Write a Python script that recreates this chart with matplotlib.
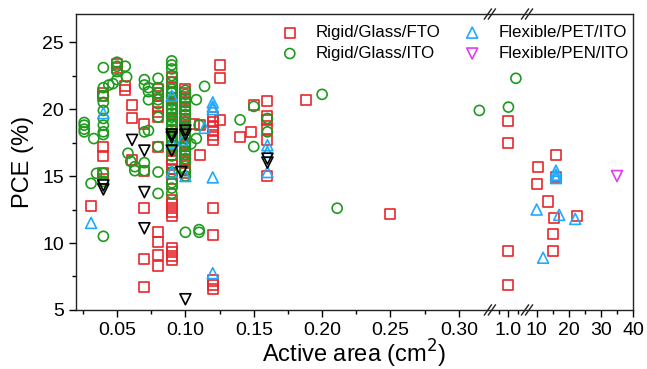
import numpy as np
import matplotlib.pyplot as plt
from matplotlib.ticker import FixedLocator, FixedFormatter

plt.rcParams['font.family'] = ['Liberation Sans', 'DejaVu Sans']

# (active area in cm2, [PCE values in %])
fto = [
    (0.031, [12.8]),
    (0.04, [21.2, 21.0, 17.2, 16.5, 15.2, 14.8]),
    (0.05, [23.4, 23.1]),
    (0.056, [21.7, 21.4]),
    (0.061, [20.3, 19.3, 16.2]),
    (0.07, [18.9, 15.4, 12.6, 8.8, 6.7]),
    (0.08, [21.5, 21.2, 21.0, 20.2, 19.8, 19.4, 17.2, 10.8, 10.1, 9.1, 8.3]),
    (0.09, [22.4, 22.0, 21.6, 21.2, 20.8, 20.4, 20.0, 19.6, 19.2, 18.8, 18.4,
            18.0, 17.6, 17.2, 16.9, 16.6, 16.2, 15.8, 15.5, 15.2, 14.8, 14.4,
            13.2, 12.9, 12.6, 12.3, 12.0, 9.6, 9.3, 9.0, 8.7]),
    (0.10, [21.5, 21.2, 20.9, 20.5, 20.0, 19.5, 19.0, 18.6, 18.0, 17.4, 16.8,
            16.5, 16.2, 15.5, 15.2]),
    (0.106, [18.9]),
    (0.111, [18.8, 16.6]),
    (0.12, [19.4, 19.0, 18.7, 18.4, 18.1, 17.7, 12.6, 10.6, 7.2, 6.9, 6.6]),
    (0.125, [23.3, 22.3, 19.2]),
    (0.14, [17.9]),
    (0.148, [18.3]),
    (0.15, [20.3]),
    (0.16, [20.6, 19.5, 19.2, 18.5, 17.7, 15.0]),
    (0.188, [20.7]),
    (0.25, [12.15]),
    (1.0, [19.1, 17.45, 9.4, 6.9]),
    (10.1, [14.4]),
    (10.4, [15.7]),
    (13.5, [13.1]),
    (15.1, [10.65, 9.4]),
    (15.4, [11.9]),
    (16.0, [16.6, 14.9]),
    (22.6, [12.0]),
]

ito = [
    (0.026, [19.0, 18.8, 18.5, 18.3]),
    (0.031, [14.45]),
    (0.033, [17.8]),
    (0.035, [15.2]),
    (0.04, [23.1, 21.6, 21.0, 20.5, 19.9, 19.3, 18.8, 18.3, 18.1, 15.2, 14.6, 10.5]),
    (0.044, [21.8]),
    (0.047, [21.9]),
    (0.05, [23.5, 23.2, 22.8, 22.2]),
    (0.056, [23.2]),
    (0.057, [22.4]),
    (0.058, [16.7]),
    (0.06, [16.1]),
    (0.063, [15.7, 15.4]),
    (0.07, [22.2, 21.8, 18.3, 16.0, 15.4]),
    (0.073, [21.6, 21.3, 20.7, 18.4]),
    (0.08, [22.3, 21.6, 21.2, 20.7, 20.4, 19.4, 17.2, 15.3, 13.7]),
    (0.09, [23.6, 23.3, 23.0, 22.5, 22.0, 21.5, 21.2, 20.9, 20.6, 20.3, 20.0,
            19.7, 19.4, 19.1, 18.8, 18.5, 18.2, 17.9, 17.6, 17.0, 16.5, 15.3,
            14.5, 14.1, 13.7]),
    (0.10, [21.4, 21.1, 20.8, 20.5, 20.2, 19.9, 19.6, 19.3, 19.0, 18.7, 18.4,
            18.1, 17.8, 17.5, 17.2, 16.9, 16.6, 16.3, 16.0, 15.4, 15.0, 10.8]),
    (0.104, [17.4]),
    (0.108, [20.7, 17.8]),
    (0.11, [18.8, 11.0, 10.8]),
    (0.114, [21.7]),
    (0.14, [19.2]),
    (0.15, [20.2, 17.2]),
    (0.16, [19.3, 18.3]),
    (0.2, [21.1]),
    (0.211, [12.6]),
    (0.315, [19.9]),
    (1.0, [20.15]),
    (1.04, [22.3]),
]

pet = [
    (0.031, [11.5]),
    (0.04, [19.7]),
    (0.09, [21.0, 17.5, 15.3]),
    (0.098, [17.7]),
    (0.10, [15.0]),
    (0.114, [18.6]),
    (0.12, [20.5, 20.2, 20.0, 14.9, 7.75]),
    (0.16, [17.3, 16.8, 15.3]),
    (10.0, [12.5]),
    (12.0, [8.9]),
    (16.0, [15.4, 15.1, 14.85]),
    (17.0, [12.1]),
    (22.0, [11.8]),
]

pen = [(35.0, [15.0])]

other = [
    (0.04, [14.3, 14.0]),
    (0.061, [17.7]),
    (0.07, [16.9, 13.8, 11.1]),
    (0.09, [18.1, 17.9, 16.9]),
    (0.097, [15.3]),
    (0.10, [18.4, 18.1, 5.8]),
    (0.16, [16.3, 16.0]),
]

xticks = [0.05, 0.10, 0.15, 0.20, 0.25, 0.30, 1.0, 10, 20, 30, 40]
xticklabels = ['0.05', '0.10', '0.15', '0.20', '0.25', '0.30', '1.0', '10', '20', '30', '40']
xminor = [0.025, 0.075, 0.125, 0.175, 0.225, 0.275, 0.95, 1.05, 15, 25, 35]

# broken x axis: three linear pieces glued together
x_knots = [0.02, 0.3227, 0.9, 1.1, 7.0, 40.0]
f_knots = [0.0, 0.743, 0.74301, 0.8097, 0.80971, 1.0]


def fwd(x):
    return np.interp(x, x_knots, f_knots)


def inv(f):
    return np.interp(f, f_knots, x_knots)


def expand(cols):
    xs, ys = [], []
    for a, vals in cols:
        for v in vals:
            xs.append(a)
            ys.append(v)
    return xs, ys


fig = plt.figure(figsize=(6.47, 3.69), dpi=100)
ax = fig.add_axes([0.1175, 0.16, 0.8609, 0.802])
ax.set_xscale('function', functions=(fwd, inv))
ax.set_xlim(0.02, 40)
ax.set_ylim(5, 27.1)

ms = 52
lw = 1.2
x, y = expand(fto)
ax.scatter(x, y, s=ms, marker='s', facecolors='none', edgecolors='#E8262C',
           linewidths=lw, label='Rigid/Glass/FTO', zorder=2)
x, y = expand(ito)
ax.scatter(x, y, s=ms, marker='o', facecolors='none', edgecolors='#1E9A1E',
           linewidths=lw, label='Rigid/Glass/ITO', zorder=3)
x, y = expand(pet)
ax.scatter(x, y, s=ms + 10, marker='^', facecolors='none', edgecolors='#1EAAFF',
           linewidths=lw, label='Flexible/PET/ITO', zorder=4)
x, y = expand(pen)
ax.scatter(x, y, s=ms + 10, marker='v', facecolors='none', edgecolors='#E03CF0',
           linewidths=lw, label='Flexible/PEN/ITO', zorder=4)
x, y = expand(other)
ax.scatter(x, y, s=ms + 10, marker='v', facecolors='none', edgecolors='black',
           linewidths=lw, zorder=5)

ax.xaxis.set_major_locator(FixedLocator(xticks))
ax.xaxis.set_major_formatter(FixedFormatter(xticklabels))
ax.xaxis.set_minor_locator(FixedLocator(xminor))
ax.set_yticks([5, 10, 15, 20, 25])
ax.set_yticks([7.5, 12.5, 17.5, 22.5], minor=True)
ax.tick_params(which='major', direction='out', length=5, width=1, labelsize=14)
ax.tick_params(which='minor', direction='out', length=3, width=1)
for sp in ax.spines.values():
    sp.set_linewidth(1.0)
    sp.set_color('#222222')

ax.set_xlabel('Active area (cm$^2$)', fontsize=17, labelpad=-1)
ax.set_ylabel('PCE (%)', fontsize=17, labelpad=6)

# "//" break marks on top and bottom spines
dx, dy, gap = 3.5 / 557, 5 / 296, 4 / 557
for fb in (0.743, 0.8097):
    for yb in (0, 1):
        for off in (-gap / 2, gap / 2):
            ax.plot([fb + off - dx, fb + off + dx], [yb - dy, yb + dy],
                    transform=ax.transAxes, color='#222222', lw=1.0,
                    clip_on=False, zorder=6)

ax.legend(ncol=2, loc='upper right', bbox_to_anchor=(1.012, 1.0), frameon=False,
          fontsize=12.2, handlelength=1.5, handletextpad=0.8, columnspacing=1.1,
          labelspacing=0.35, borderaxespad=0.25, scatterpoints=1)

fig.savefig('out.png', dpi=100)
